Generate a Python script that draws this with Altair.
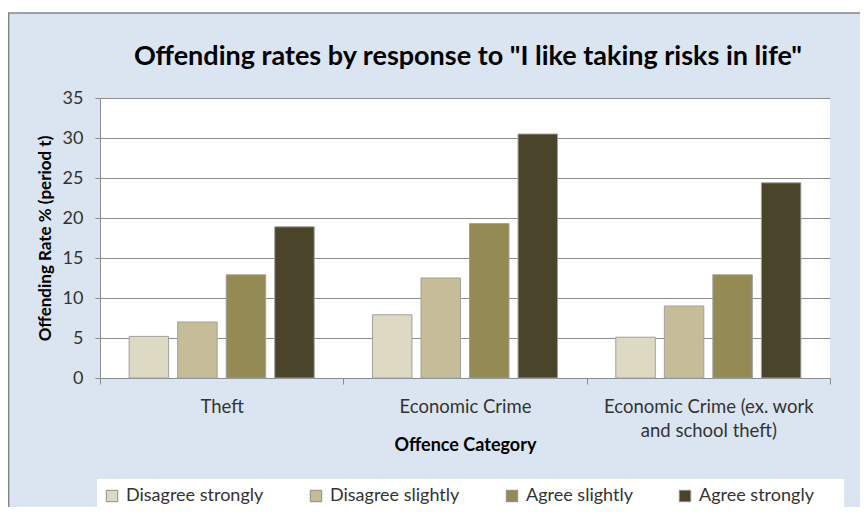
import altair as alt
import pandas as pd

# ---- data ----
categories = ["Theft", "Economic Crime", "Economic Crime (ex. work and school theft)"]
responses = ["Disagree strongly", "Disagree slightly", "Agree slightly", "Agree strongly"]
disagree_strongly = [5.2, 7.9, 5.1]
disagree_slightly = [7.0, 12.5, 9.0]
agree_slightly = [12.9, 19.3, 12.9]
agree_strongly = [18.9, 30.5, 24.4]
y_ticks = [0, 5, 10, 15, 20, 25, 30, 35]
colors = ["#ddd9c3", "#c4bd97", "#948a54", "#4a452a"]

series = [disagree_strongly, disagree_slightly, agree_slightly, agree_strongly]
rows = []
for r, vals in zip(responses, series):
    for c, v in zip(categories, vals):
        rows.append({"category": c, "response": r, "value": v})
df = pd.DataFrame(rows)

FONT = "Lato"
BG = "#dbe5f1"
GRAY = "#8c8c8c"
TXT = "#333333"

label_expr = (
    "datum.value == 'Economic Crime (ex. work and school theft)' ? "
    "['Economic Crime (ex. work', 'and school theft)'] : datum.label"
)

bars = alt.Chart(df).mark_bar(stroke="#a0a0a0", strokeWidth=1).encode(
    x=alt.X(
        "category:N",
        sort=categories,
        scale=alt.Scale(paddingInner=0, paddingOuter=0),
        axis=alt.Axis(
            title="Offence Category",
            titleFont=FONT, titleFontSize=18, titleFontWeight="bold", titleColor="#000000",
            titleX=365, titleY=72, titleBaseline="alphabetic",
            labelFont=FONT, labelFontSize=18.5, labelColor=TXT, labelAngle=0,
            labelBaseline="alphabetic", labelPadding=28, labelLineHeight=24,
            labelExpr=label_expr, labelLimit=300,
            tickBand="extent", ticks=True, tickSize=6, tickColor=GRAY,
            domain=True, domainColor=GRAY, grid=False,
        ),
    ),
    xOffset=alt.XOffset(
        "response:N", sort=responses,
        scale=alt.Scale(paddingInner=0.186, paddingOuter=0.6),
    ),
    y=alt.Y(
        "value:Q",
        scale=alt.Scale(domain=[0, 35], nice=False),
        axis=alt.Axis(
            title="Offending Rate % (period t)",
            titleFont=FONT, titleFontSize=17, titleFontWeight="bold", titleColor="#000000",
            titleX=-55, titleY=140, titleAngle=270, titleBaseline="middle", titleAlign="center",
            values=y_ticks, labelFont=FONT, labelFontSize=18, labelColor=TXT,
            labelPadding=12, tickSize=5, tickColor=GRAY,
            domain=True, domainColor=GRAY, grid=True, gridColor=GRAY,
        ),
    ),
    color=alt.Color(
        "response:N",
        sort=responses,
        scale=alt.Scale(domain=responses, range=colors),
        legend=alt.Legend(
            title=None, orient="none", direction="horizontal",
            legendX=3, legendY=389,
            symbolType="square", symbolSize=130, symbolStrokeColor="#8c8c8c",
            symbolStrokeWidth=1, symbolOpacity=1,
            labelFont=FONT, labelFontSize=18, labelColor=TXT, labelOffset=5,
            columnPadding=43, padding=0, labelLimit=300,
        ),
    ),
)

deco = pd.DataFrame({"k": [0]})
legend_box = alt.Chart(deco).mark_rect(fill="white").encode(
    x=alt.value(-3), x2=alt.value(744), y=alt.value(381), y2=alt.value(415)
)
top_strip = alt.Chart(deco).mark_rect(fill="white").encode(
    x=alt.value(-92), x2=alt.value(760), y=alt.value(-90), y2=alt.value(-85)
)
border_top = alt.Chart(deco).mark_rule(color="#868686", strokeWidth=1.5).encode(
    x=alt.value(-92), x2=alt.value(760), y=alt.value(-85)
)
border_left = alt.Chart(deco).mark_rule(color="#868686", strokeWidth=1.5).encode(
    x=alt.value(-91.3), y=alt.value(-85), y2=alt.value(420)
)

chart = alt.layer(top_strip, border_top, border_left, legend_box, bars).properties(
    width=730,
    height=280,
    title=alt.TitleParams(
        text='Offending rates by response to "I like taking risks in life"',
        font=FONT, fontSize=27, fontWeight="bold", color="#000000",
        anchor="middle", frame="group", baseline="alphabetic", offset=0, dx=3, dy=84,
    ),
    autosize=alt.AutoSizeParams(type="none"),
    padding={"left": 92, "top": 90, "right": 30, "bottom": 129},
    background=BG,
).configure_view(fill="white", stroke=None)

chart.save("out.html", embed_options={"renderer": "svg", "actions": False})
